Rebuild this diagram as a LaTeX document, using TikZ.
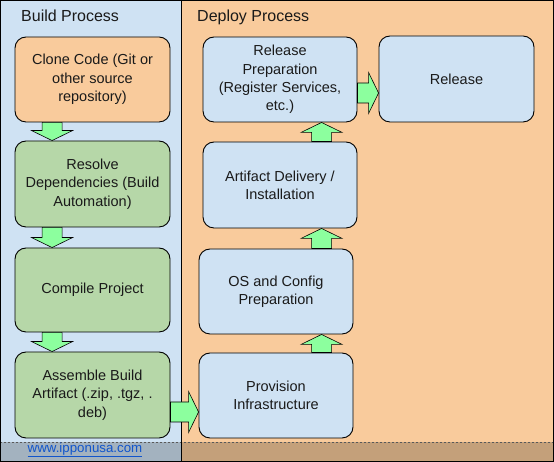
\documentclass[tikz,border=0pt]{standalone}
\usepackage{fontspec}
\setmainfont{Liberation Sans}
\usetikzlibrary{calc}
\definecolor{paneblue}{HTML}{CFE2F3}
\definecolor{paneorange}{HTML}{F9CB9C}
\definecolor{boxgreen}{HTML}{B6D7A8}
\definecolor{arrowgreen}{HTML}{8CFF9E}
\definecolor{linkblue}{HTML}{1155CC}
\definecolor{txt}{HTML}{1A1A1A}
\tikzset{
  stepbox/.style={draw=black, line width=0.9pt, rounded corners=11pt, align=center,
    text=txt, font=\fontsize{14.5}{18.3}\selectfont, inner sep=0pt},
  bluebox/.style={stepbox, fill=paneblue},
  orangebox/.style={stepbox, fill=paneorange},
  greenbox/.style={stepbox, fill=boxgreen},
  fat/.style={draw=black, line width=0.6pt, fill=arrowgreen, line join=miter},
  paneltitle/.style={anchor=base west, inner sep=0pt, text=txt, font=\fontsize{16}{19}\selectfont},
}
\newcommand{\fatarrow}[2]{%
  \coordinate (fs) at #1;
  \coordinate (fe) at #2;
  \coordinate (fh) at ($(fe)!10pt!(fs)$);
  \draw[fat] ($(fs)!10pt!90:(fe)$) -- ($(fh)!10pt!-90:(fs)$) -- ($(fh)!20.5pt!-90:(fs)$)
    -- (fe) -- ($(fh)!20.5pt!90:(fs)$) -- ($(fh)!10pt!90:(fs)$) -- ($(fs)!10pt!-90:(fe)$) -- cycle;
}
\begin{document}
\begin{tikzpicture}[x=1pt,y=1pt]
\useasboundingbox (0,0) rectangle (554,462);
% panels
\fill[paneblue] (0,0) rectangle (181.5,462);
\fill[paneorange] (181.5,0) rectangle (554,462);
\fill[black, opacity=0.21] (0,0) rectangle (554,20);
\draw[black!65, line width=0.8pt, dash pattern=on 2pt off 2pt] (0,20) -- (554,20);
\draw[black, line width=1pt] (181.5,0) -- (181.5,462);
\draw[black, line width=1.2pt] (0.6,0.6) rectangle (553.4,461.4);
% titles
\node[paneltitle] (tbuild) at (21,440) {Build Process};
\node[paneltitle] (tdeploy) at (197,440) {Deploy Process};
% build column
\node[orangebox, minimum width=155pt, minimum height=85pt] (clone) at (92.5,382.5) {Clone Code (Git or\\other source\\repository)};
\node[greenbox, minimum width=155pt, minimum height=86pt] (resolve) at (92.5,278) {Resolve\\Dependencies (Build\\Automation)};
\node[greenbox, minimum width=155pt, minimum height=84pt] (compile) at (92.5,172) {Compile Project};
\node[greenbox, minimum width=155pt, minimum height=86pt] (assemble) at (92.5,67) {Assemble Build\\Artifact (.zip, .tgz, .\\deb)};
% deploy column
\node[bluebox, minimum width=154pt, minimum height=85pt] (prov) at (276,66.5) {Provision\\Infrastructure};
\node[bluebox, minimum width=154pt, minimum height=85pt] (os) at (276,170.5) {OS and Config\\Preparation};
\node[bluebox, minimum width=154pt, minimum height=86pt] (deliv) at (280,277) {Artifact Delivery /\\Installation};
\node[bluebox, minimum width=154pt, minimum height=85pt] (relprep) at (280,382.5) {Release\\Preparation\\(Register Services,\\etc.)};
\node[bluebox, minimum width=155pt, minimum height=86pt] (release) at (456.5,383) {Release};
% arrows
\fatarrow{($(clone.south west)+(37.5,0)$)}{($(resolve.north west)+(37.5,0)$)}
\fatarrow{($(resolve.south west)+(37.5,0)$)}{($(compile.north west)+(37.5,0)$)}
\fatarrow{($(compile.south west)+(37.5,0)$)}{($(assemble.north west)+(37.5,0)$)}
\fatarrow{($(assemble.east)+(0,-17)$)}{($(prov.west)+(0,-16.5)$)}
\fatarrow{($(prov.north west)+(123,0)$)}{($(os.south west)+(123,0)$)}
\fatarrow{($(os.north west)+(123,0)$)}{($(deliv.south west)+(119,0)$)}
\fatarrow{($(deliv.north west)+(119,0)$)}{($(relprep.south west)+(119,0)$)}
\fatarrow{($(relprep.east)+(0,-13.5)$)}{($(release.west)+(0,-14)$)}
% link
\node[text=linkblue, font=\fontsize{13.3}{16}\selectfont, inner sep=0pt] (link) at (85,12) {\underline{www.ipponusa.com}};
\end{tikzpicture}
\end{document}
